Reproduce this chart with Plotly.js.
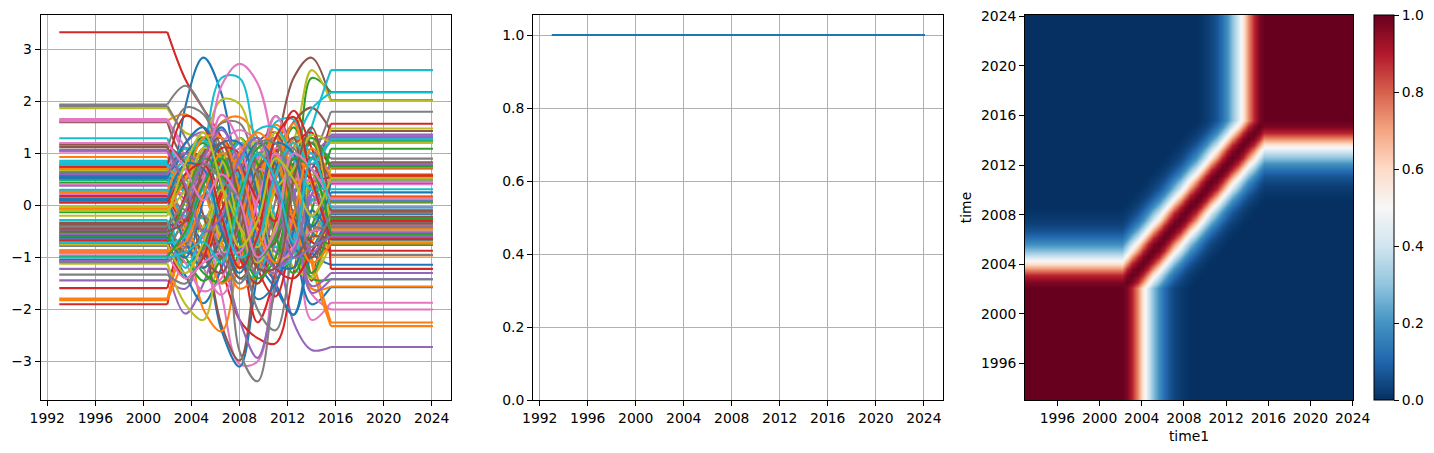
<!DOCTYPE html>
<html>
<head>
<meta charset="utf-8">
<script src="https://cdn.plot.ly/plotly-3.0.1.min.js"></script>
<style>html,body{margin:0;padding:0;background:#fff;overflow:hidden}#chart{width:1434px;height:453px}</style>
</head>
<body>
<div id="chart"></div>
<script>
// Sample years of the varying stretch; each series: first value = flat level on the left, last = flat level on the right
const midYears = [2002,2003.5,2005,2006.5,2008,2009.5,2011,2012.5,2014,2015.6];
const startYear = 1993, endYear = 2024.1;

const blue = [
[-1.0,1.9,2.84,2.15,.3,-1.0,-.6,.2,.7,1.3],
[-1.05,-.3,-.8,-2.4,-3.1,-1.3,.5,.9,-.9,-1.14],
[-.74,-1.35,-1.88,-1.2,-.1,.8,.4,-.7,-1.9,-1.57],
[.62,-.4,.9,1.5,.6,-.8,-1.5,-2.1,-.6,.43],
[.58,1.0,1.3,.8,-.3,-1.1,-1.6,-2.1,-.9,-.17],
[.55,.3,-.5,-.3,.9,1.3,.5,-.1,.5,.11],
[.52,1.2,1.5,.8,-.7,-1.8,-1.5,-.5,.4,-.62],
[.13,-.7,-1.2,-.6,.5,1.2,.8,-.8,-1.0,.56],
[-.62,-1.0,.1,1.2,1.2,.2,-1.1,-1.2,-.1,-.6],
[.1,.8,.7,-.5,-1.3,-.3,1.2,1.0,-.4,.25]];
const orange = [
[1.63,1.75,1.5,1.3,.9,.4,.3,.9,.5,.05],
[.93,.5,1.0,1.6,1.7,1.3,.2,-.8,-.7,.6],
[-.9,-.75,-2.0,-2.42,-.9,.5,1.3,1.2,.0,-.96],
[-1.82,-.9,.6,1.0,.1,-1.1,-1.3,.2,-1.0,-2.25],
[-1.79,-.6,.2,-.7,-1.6,-1.3,.5,1.3,-1.1,-2.32],
[.27,.9,.3,-.7,-1.2,.1,1.55,1.0,-1.6,-1.56],
[.70,.4,-.6,-1.5,-1.1,.4,1.3,.6,-.5,.15],
[-.07,.5,1.3,1.3,.3,-.7,.5,1.58,.4,-.45],
[.25,-.4,-.9,.1,1.0,1.4,1.0,-.3,-1.1,-.73],
[-.88,-.7,.2,1.0,.7,-.5,-1.1,-.2,1.1,.53]];
const green = [
[.72,.2,-.5,-1.5,-.9,.2,.9,.8,2.45,2.18],
[.48,1.1,.8,-.3,-1.2,-.8,.6,1.5,.9,1.24],
[.43,-.5,-1.2,-.6,.5,.5,-.6,-1.2,-.1,1.09],
[.08,.8,1.2,.4,-.9,-1.5,-.7,.8,1.2,.07],
[-.06,-.7,-1.3,-1.48,-.6,.5,.7,-.3,-1.4,-1.42],
[-.13,.6,1.3,1.0,-.1,-.6,.3,.8,-.5,-.76],
[-.53,-1.1,-.8,.5,1.3,.8,-.6,-1.3,-.4,.5],
[-.6,-1.0,-1.45,-1.0,.2,1.1,1.2,.1,-1.3,-.25],
[-.72,.1,.9,.6,-.6,-1.4,-1.0,.6,1.3,.75],
[-.98,-.5,.4,.9,.1,-1.0,-.6,.9,.7,-.55]];
const red = [
[3.33,2.42,1.85,1.3,.3,-.9,-1.4,-.6,.4,1.57],
[-1.59,-.3,.9,.7,-.6,-2.25,-1.3,.4,1.2,.71],
[-1.9,-.6,-.2,-1.2,-2.2,-2.55,-2.65,-1.3,.2,.58],
[.75,1.72,1.5,.8,-.1,-.3,1.0,1.82,1.1,.17],
[.53,-.5,-1.0,-.1,.7,-1.2,-1.75,-.4,.8,-.13],
[-.57,-.28,-.5,.3,.9,.8,.2,-.3,-.7,-.87],
[-.66,.2,1.1,.7,-1.0,-1.5,-.3,1.1,1.4,-1.22],
[.18,-.3,.2,1.1,1.0,-.3,-1.2,-1.4,-.9,-.3],
[-.68,-1.4,-1.0,.2,.7,.1,-.3,.9,.5,.55],
[.05,.6,.8,-.2,-1.2,-.6,1.3,1.7,.5,-.65]];
const purple = [
[-1.44,-1.6,-.8,.1,.8,.5,-.5,-2.25,-2.78,-2.72],
[-1.22,-2.08,-1.5,-.4,.4,.8,.2,-.8,.4,1.36],
[.57,1.2,1.4,.4,-.9,-1.3,-.4,.8,1.2,1.33],
[.38,.1,-.5,-1.0,-2.2,-2.93,-1.6,-.3,.9,1.3],
[-.42,-.8,-.6,.4,1.2,.6,-.9,-.9,.2,.78],
[-.47,-.9,-.9,-1.0,-.3,.9,1.3,.3,-1.55,-1.3],
[-1.07,-.6,.4,1.2,.5,-1.0,-1.3,-.3,-1.68,-1.42],
[.6,1.0,.6,-.4,-.9,.1,1.0,.3,-.9,-.4],
[-.55,-.1,.9,1.45,.8,-.6,-1.2,-.9,.2,-.52],
[1.05,.4,-.5,-.2,.9,1.3,.4,-1.0,-.8,-.6]];
const brown = [
[1.6,.9,1.0,.4,-.6,-.3,1.0,2.45,2.84,2.02],
[.78,.2,-.6,-2.3,-2.98,-.9,.9,1.6,1.88,1.43],
[.72,1.0,.9,.1,-.9,.6,1.72,1.0,-1.3,.83],
[-.33,-.3,-.45,-.7,.1,1.2,1.4,.2,-1.45,.55],
[-.36,.1,1.0,1.3,.5,-.9,-.7,.7,.9,.52],
[-.39,-.9,-.5,.6,.8,-.4,-.6,.5,-.2,-.22],
[-.45,-.1,.5,-.4,-1.4,-.9,.7,1.3,-.5,-.27],
[1.17,.8,-.2,-1.0,-.5,.7,1.0,-.2,-1.0,-.35],
[1.12,.3,-1.0,-1.3,-.2,1.0,.5,-1.0,-.6,-.65],
[-.5,-.3,.7,1.2,.1,-1.2,-1.2,.5,1.5,-.1]];
const pink = [
[1.66,.9,-.2,-1.7,-3.05,-3.0,-1.0,.6,1.0,.41],
[1.62,1.1,.4,-.8,-1.1,.2,1.2,.3,-2.2,-1.87],
[1.03,.4,.8,2.3,2.72,2.35,.9,-.5,-1.7,-2.0],
[.41,-.3,-1.2,-1.72,-1.0,.3,1.1,.9,.1,-.03],
[.28,.25,.6,1.2,1.45,1.2,.3,-.2,-.5,-.08],
[.22,-.6,-.8,.2,1.1,.9,1.72,.9,-.2,-.38],
[-.63,-1.1,-1.65,-1.4,-.4,.7,.4,-.8,-.5,-.5],
[-.86,-.5,.5,1.74,1.2,-.2,-1.1,-.8,.2,-.58],
[-.93,-1.4,-1.1,-.9,-.9,.1,1.0,.4,.5,.45],
[1.2,.7,.1,.6,.1,-1.0,-.5,1.0,.7,.12]];
const gray = [
[1.94,2.3,1.85,1.1,.2,-.7,-.2,.8,.9,1.26],
[1.91,1.3,.6,.1,-.6,-1.3,.1,1.3,1.2,.9],
[1.07,1.88,1.75,.9,-.1,-1.1,-.6,.5,.9,1.8],
[.65,.5,1.0,1.58,1.58,.6,-.6,-1.0,.2,.8],
[.12,-.1,-.5,-.5,-2.8,-3.38,-1.4,.2,.7,-.95],
[.07,.7,.4,-.5,-.1,1.0,.9,-.7,-1.3,-.27],
[-.78,-.3,.4,1.0,-.2,-2.0,-2.4,-.8,.3,-.33],
[-1.33,-1.5,-.9,.1,1.0,.6,-.5,-.1,-.4,-.42],
[-1.09,-.8,-.2,-.9,-1.5,-.7,.6,1.1,-.2,.5],
[-.4,.1,.8,.5,.2,1.2,1.2,.1,-.8,-.15]];
const olive = [
[1.87,1.4,1.3,.9,.3,-.3,.8,1.25,2.6,2.01],
[1.15,.0,1.1,2.03,1.95,.7,-.3,-.6,.2,1.48],
[-1.12,-1.9,-2.2,-.4,.8,1.24,.3,-1.2,-1.35,-.73],
[.68,.3,1.1,.8,-.6,.1,1.4,.9,-.4,.73],
[.15,-.5,-1.2,-.7,.3,1.1,.9,-.9,-1.4,-.33],
[-.02,.6,.7,-.6,-.5,.8,1.2,.1,-.6,-.47],
[-.05,-.6,-.4,.8,1.3,.4,-1.0,-.9,.6,-.55],
[-.1,.3,1.1,.9,-.4,-1.1,-.4,1.1,1.3,-.7],
[-.75,-1.3,-.7,.3,-.4,-.8,.3,.7,1.35,1.2],
[-.2,.8,1.4,.4,-.8,-.3,.9,.5,-.2,.52]];
const cyan = [
[1.29,.5,.3,.9,1.2,.7,-.4,.2,1.5,2.6],
[.86,-.3,1.0,2.45,2.45,1.0,.2,1.1,1.85,2.17],
[.83,1.1,.6,-.4,-.9,.2,1.6,1.65,1.0,1.22],
[.8,.2,-.25,.3,.55,.0,-.8,-.6,.1,.31],
[.78,-1.4,-.9,.5,1.2,.9,-.2,-.5,.5,.1],
[.5,.9,1.25,.6,-1.4,-1.3,-.4,.7,1.0,-.7],
[.3,-.2,.4,1.2,.5,-.7,-1.2,-1.0,-.2,-.68],
[-.28,-1.2,-.5,.1,.8,1.45,1.5,.9,.3,.44],
[-.72,-.6,.3,-.2,-1.0,-.7,.6,1.2,.8,1.27],
[-1.0,-.9,-.7,-1.1,.1,1.0,.5,-.7,.9,-.04]];

const seriesByColour = [blue,orange,green,red,purple,brown,pink,gray,olive,cyan];
const colours = ['#1f77b4','#ff7f0e','#2ca02c','#d62728','#9467bd','#8c564b','#e377c2','#7f7f7f','#bcbd22','#17becf'];

// Middle panel
const levelYears = [1993,2024.1];
const levelValues = [1,1];

// Right panel: anchor years, row of the correlation table used by each anchor, correlation table
const anchorYears = [1993,2001.1,2001.6,2002.1,2002.6,2003.1,2003.6,2004.1,2004.6,2005.1,2005.6,2006.1,2006.6,2007.1,2007.6,2008.1,2008.6,2009.1,2009.6,2010.1,2010.6,2011.1,2011.6,2012.1,2012.6,2013.1,2013.6,2014.1,2014.6,2015.1,2015.6,2016.1,2016.6,2024];
const anchorRow = [0,0,0,0,1,2,3,4,5,6,7,8,9,10,11,12,13,14,15,16,17,18,19,20,21,22,23,24,25,26,27,27,27,27];
const corr = [
[1,.97,.88,.73,.56,.41,.29,.19,.12,.07,.04,.02,.01,0,0,0,0,0,0,0,0,0,0,0,0,0,0,0],
[.97,1,.97,.88,.73,.56,.41,.29,.19,.12,.07,.04,.02,.01,0,0,0,0,0,0,0,0,0,0,0,0,0,0],
[.88,.97,1,.97,.88,.73,.56,.41,.29,.19,.12,.07,.04,.02,.01,0,0,0,0,0,0,0,0,0,0,0,0,0],
[.73,.88,.97,1,.97,.88,.73,.56,.41,.29,.19,.12,.07,.04,.02,.01,0,0,0,0,0,0,0,0,0,0,0,0],
[.56,.73,.88,.97,1,.97,.88,.73,.56,.41,.29,.19,.12,.07,.04,.02,.01,0,0,0,0,0,0,0,0,0,0,0],
[.41,.56,.73,.88,.97,1,.97,.88,.73,.56,.41,.29,.19,.12,.07,.04,.02,.01,0,0,0,0,0,0,0,0,0,0],
[.29,.41,.56,.73,.88,.97,1,.97,.88,.73,.56,.41,.29,.19,.12,.07,.04,.02,.01,0,0,0,0,0,0,0,0,0],
[.19,.29,.41,.56,.73,.88,.97,1,.97,.88,.73,.56,.41,.29,.19,.12,.07,.04,.02,.01,0,0,0,0,0,0,0,0],
[.12,.19,.29,.41,.56,.73,.88,.97,1,.97,.88,.73,.56,.41,.29,.19,.12,.07,.04,.02,.01,0,0,0,0,0,0,0],
[.07,.12,.19,.29,.41,.56,.73,.88,.97,1,.97,.88,.73,.56,.41,.29,.19,.12,.07,.04,.02,.01,0,0,0,0,0,0],
[.04,.07,.12,.19,.29,.41,.56,.73,.88,.97,1,.97,.88,.73,.56,.41,.29,.19,.12,.07,.04,.02,.01,0,0,0,0,0],
[.02,.04,.07,.12,.19,.29,.41,.56,.73,.88,.97,1,.97,.88,.73,.56,.41,.29,.19,.12,.07,.04,.02,.01,0,0,0,0],
[.01,.02,.04,.07,.12,.19,.29,.41,.56,.73,.88,.97,1,.97,.88,.73,.56,.41,.29,.19,.12,.07,.04,.02,.01,0,0,0],
[0,.01,.02,.04,.07,.12,.19,.29,.41,.56,.73,.88,.97,1,.97,.88,.73,.56,.41,.29,.19,.12,.07,.04,.02,.01,0,0],
[0,0,.01,.02,.04,.07,.12,.19,.29,.41,.56,.73,.88,.97,1,.97,.88,.73,.56,.41,.29,.19,.12,.07,.04,.02,.01,0],
[0,0,0,.01,.02,.04,.07,.12,.19,.29,.41,.56,.73,.88,.97,1,.97,.88,.73,.56,.41,.29,.19,.12,.07,.04,.02,.01],
[0,0,0,0,.01,.02,.04,.07,.12,.19,.29,.41,.56,.73,.88,.97,1,.97,.88,.73,.56,.41,.29,.19,.12,.07,.04,.02],
[0,0,0,0,0,.01,.02,.04,.07,.12,.19,.29,.41,.56,.73,.88,.97,1,.97,.88,.73,.56,.41,.29,.19,.12,.07,.04],
[0,0,0,0,0,0,.01,.02,.04,.07,.12,.19,.29,.41,.56,.73,.88,.97,1,.97,.88,.73,.56,.41,.29,.19,.12,.07],
[0,0,0,0,0,0,0,.01,.02,.04,.07,.12,.19,.29,.41,.56,.73,.88,.97,1,.97,.88,.73,.56,.41,.29,.19,.12],
[0,0,0,0,0,0,0,0,.01,.02,.04,.07,.12,.19,.29,.41,.56,.73,.88,.97,1,.97,.88,.73,.56,.41,.29,.19],
[0,0,0,0,0,0,0,0,0,.01,.02,.04,.07,.12,.19,.29,.41,.56,.73,.88,.97,1,.97,.88,.73,.56,.41,.29],
[0,0,0,0,0,0,0,0,0,0,.01,.02,.04,.07,.12,.19,.29,.41,.56,.73,.88,.97,1,.97,.88,.73,.56,.41],
[0,0,0,0,0,0,0,0,0,0,0,.01,.02,.04,.07,.12,.19,.29,.41,.56,.73,.88,.97,1,.97,.88,.73,.56],
[0,0,0,0,0,0,0,0,0,0,0,0,.01,.02,.04,.07,.12,.19,.29,.41,.56,.73,.88,.97,1,.97,.88,.73],
[0,0,0,0,0,0,0,0,0,0,0,0,0,.01,.02,.04,.07,.12,.19,.29,.41,.56,.73,.88,.97,1,.97,.88],
[0,0,0,0,0,0,0,0,0,0,0,0,0,0,.01,.02,.04,.07,.12,.19,.29,.41,.56,.73,.88,.97,1,.97],
[0,0,0,0,0,0,0,0,0,0,0,0,0,0,0,.01,.02,.04,.07,.12,.19,.29,.41,.56,.73,.88,.97,1]];

const yearTicks = [1992,1996,2000,2004,2008,2012,2016,2020,2024];
const heatTicks = [1996,2000,2004,2008,2012,2016,2020,2024];
const valueTicks = [-3,-2,-1,0,1,2,3];
const unitTicks = [0,0.2,0.4,0.6,0.8,1];

const W = 1434, H = 453;
const font = {family:'"DejaVu Sans", sans-serif', size:13.9, color:'#000'};
const dx = (a,b)=>[a/W,b/W];
const dy = [(H-400)/H,(H-15)/H];

function axis(extra){
  return Object.assign({
    showline:true, mirror:true, linecolor:'#000', linewidth:1,
    ticks:'outside', ticklen:4.9, tickwidth:1, tickcolor:'#000',
    showgrid:false, zeroline:false, tickfont:font, automargin:false
  },extra);
}
const grid = {showgrid:true, gridcolor:'#b0b0b0', gridwidth:1};

const traces = [];
const lastMid = midYears[midYears.length-1];
for(let i=0;i<10;i++){
  seriesByColour.forEach((group,c)=>{
    const s = group[i];
    traces.push({
      type:'scatter', mode:'lines', xaxis:'x', yaxis:'y', showlegend:false, hoverinfo:'skip',
      x:[startYear,midYears[0],null,lastMid,endYear],
      y:[s[0],s[0],null,s[s.length-1],s[s.length-1]],
      line:{color:colours[c],width:2.08}
    });
    traces.push({
      type:'scatter', mode:'lines', xaxis:'x', yaxis:'y', showlegend:false, hoverinfo:'skip',
      x:midYears, y:s,
      line:{color:colours[c],width:2.08,shape:'spline',smoothing:1}
    });
  });
}
traces.push({type:'scatter',mode:'lines',xaxis:'x2',yaxis:'y2',showlegend:false,hoverinfo:'skip',
  x:levelYears,y:levelValues,line:{color:'#1f77b4',width:2.08}});
traces.push({type:'heatmap',xaxis:'x3',yaxis:'y3',hoverinfo:'skip',
  x:anchorYears,y:anchorYears,
  z:anchorRow.map(r=>anchorRow.map(c=>corr[r][c])),
  zmin:0,zmax:1,zsmooth:'best',
  colorscale:[[0,'#053061'],[.1,'#2166ac'],[.2,'#4393c3'],[.3,'#92c5de'],[.4,'#d1e5f0'],[.5,'#f7f7f7'],[.6,'#fddbc7'],[.7,'#f4a582'],[.8,'#d6604d'],[.9,'#b2182b'],[1,'#67001f']],
  colorbar:{x:1374/W,xanchor:'left',xpad:0,ypad:0,thickness:19.5,thicknessmode:'pixels',
    len:385/H,lenmode:'fraction',y:(H-400)/H,yanchor:'bottom',
    outlinewidth:1,outlinecolor:'#000',borderwidth:0,
    tickmode:'array',tickvals:unitTicks,ticktext:unitTicks.map(v=>v.toFixed(1)),
    ticks:'outside',ticklen:4.9,tickwidth:1,tickcolor:'#000',tickfont:font}
});

const layout = {
  width:W,height:H,paper_bgcolor:'#fff',plot_bgcolor:'#fff',showlegend:false,
  margin:{l:0,r:0,t:0,b:0,pad:0},font:font,
  xaxis:axis(Object.assign({domain:dx(40.5,451),anchor:'y',range:[1991.44,2025.6],tickmode:'array',tickvals:yearTicks,ticktext:yearTicks.map(String)},grid)),
  yaxis:axis(Object.assign({domain:dy,anchor:'x',range:[-3.74,3.66],tickmode:'array',tickvals:valueTicks,ticktext:valueTicks.map(v=>v<0?'\u2212'+(-v):String(v))},grid)),
  xaxis2:axis(Object.assign({domain:dx(533,943),anchor:'y2',range:[1991.44,2025.6],tickmode:'array',tickvals:yearTicks,ticktext:yearTicks.map(String)},grid)),
  yaxis2:axis(Object.assign({domain:dy,anchor:'x2',range:[0,1.055],tickmode:'array',tickvals:unitTicks,ticktext:unitTicks.map(v=>v.toFixed(1))},grid)),
  xaxis3:axis({domain:dx(1025,1353),anchor:'y3',range:[1992.93,2024.03],tickmode:'array',tickvals:heatTicks,ticktext:heatTicks.map(String),title:{text:'time1',font:font,standoff:6}}),
  yaxis3:axis({domain:dy,anchor:'x3',range:[1993.05,2024.1],tickmode:'array',tickvals:heatTicks,ticktext:heatTicks.map(String),title:{text:'time',font:font,standoff:6}})
};
Plotly.newPlot('chart',traces,layout,{displayModeBar:false,staticPlot:true});
</script>
</body>
</html>
